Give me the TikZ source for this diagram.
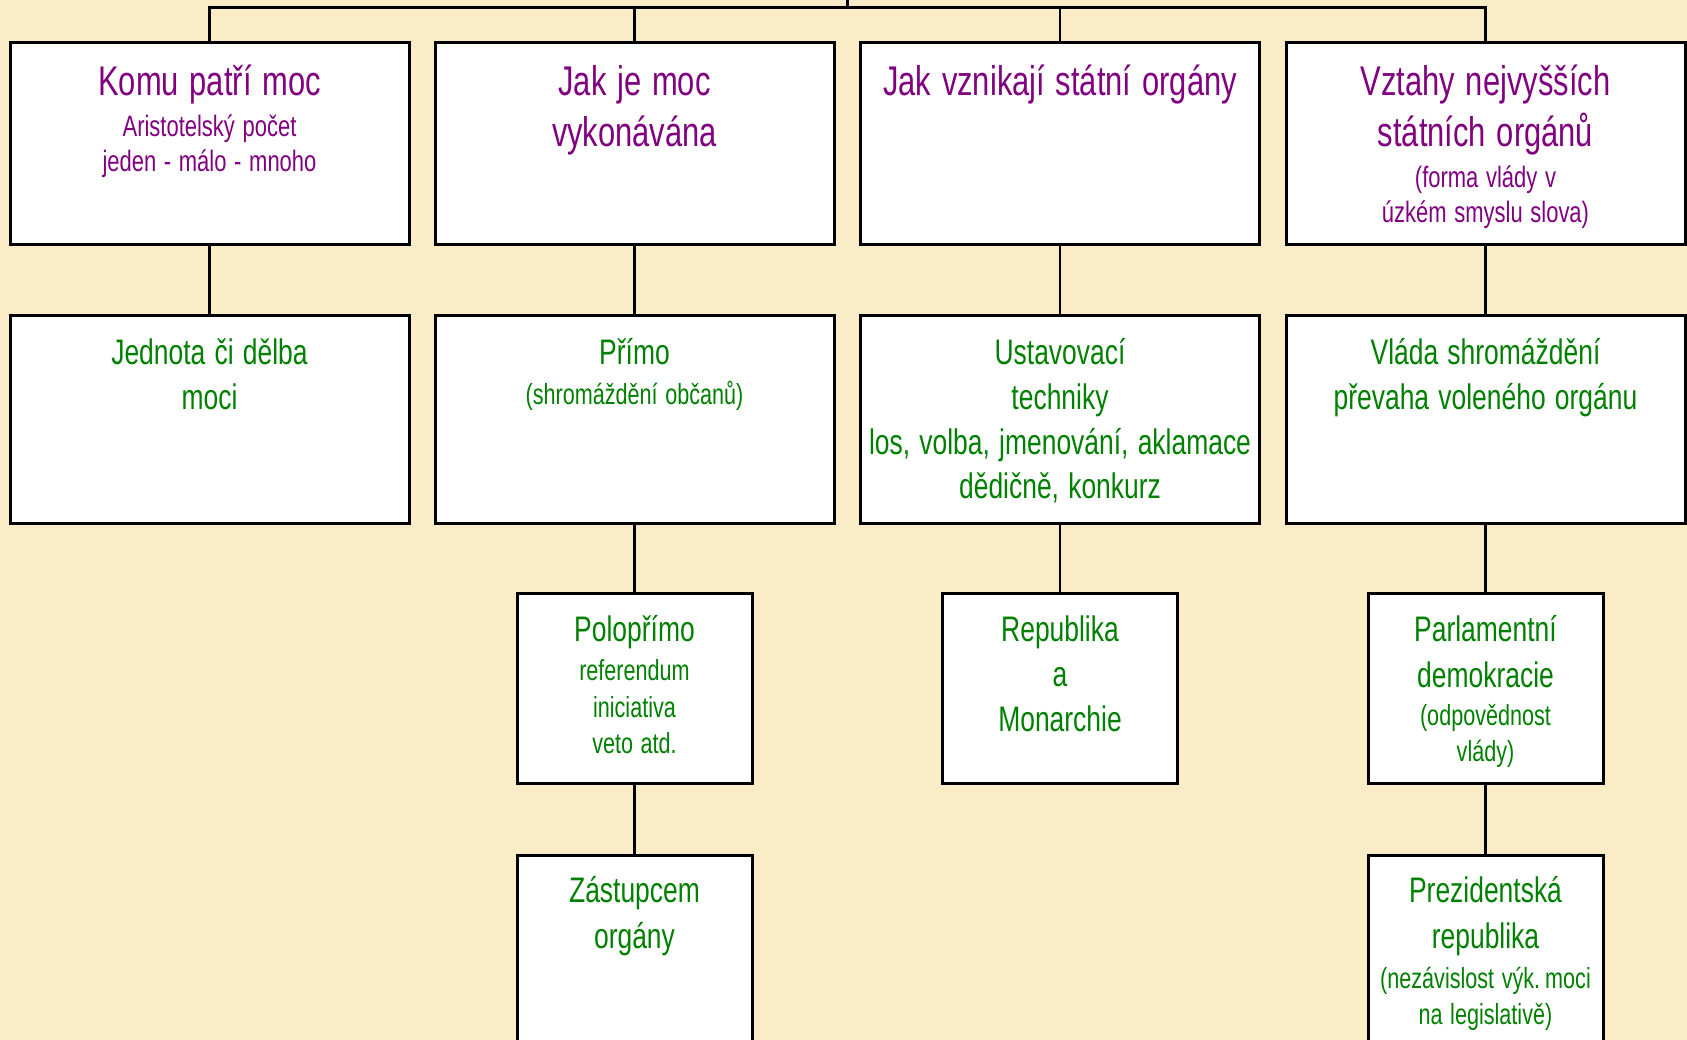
\documentclass[tikz,border=0pt]{standalone}
\usepackage{fontspec}
\setmainfont{Liberation Sans}[FakeStretch=0.745]
\usetikzlibrary{calc}
\definecolor{bg}{RGB}{251,236,200}
\definecolor{purp}{RGB}{128,0,128}
\definecolor{grn}{RGB}{0,128,0}
% one line: font size, distance of its baseline from the previous one, text
\newcommand\Ln[3]{{\fontsize{#1}{#2}\selectfont\spaceskip=0.26\dimexpr#1pt\relax#3\par}}
\newcommand\Fst{\rule{0pt}{40pt}}
\begin{document}
\begin{tikzpicture}[x=1pt,y=-1pt,
  box/.style={draw=black, line width=3pt, fill=white, inner sep=0pt},
  wide/.style={box, minimum width=399pt},
  narrow/.style={box, minimum width=235pt},
  conn/.style={draw=black, line width=2.6pt},
  txt/.style={anchor=north, align=center, inner sep=0pt,
    execute at begin node={\parindent=0pt\parskip=0pt\lineskiplimit=-1000pt}},
  ptxt/.style={txt, text=purp, text width=396pt},
  gtxt/.style={txt, text=grn, text width=396pt},
  gntxt/.style={txt, text=grn, text width=232pt}]
\useasboundingbox (0,0) rectangle (1687,1040);
\fill[bg] (0,0) rectangle (1687,1040);
\clip (0,0) rectangle (1687,1040);

% row 1
\node[wide, minimum height=202pt] (a1) at (209.5,144) {};
\node[wide, minimum height=202pt] (b1) at (634.5,144) {};
\node[wide, minimum height=202pt] (c1) at (1060,144) {};
\node[wide, minimum height=202pt] (d1) at (1485.5,144) {};
% row 2
\node[wide, minimum height=207pt] (a2) at (209.5,419.5) {};
\node[wide, minimum height=207pt] (b2) at (634.5,419.5) {};
\node[wide, minimum height=207pt] (c2) at (1060,419.5) {};
\node[wide, minimum height=207pt] (d2) at (1485.5,419.5) {};
% row 3
\node[narrow, minimum height=190pt] (b3) at (634.5,688) {};
\node[narrow, minimum height=190pt] (c3) at (1060,688) {};
\node[narrow, minimum height=190pt] (d3) at (1485.5,688) {};
% row 4
\node[narrow, minimum height=250pt] (b4) at (634.5,980) {};
\node[narrow, minimum height=250pt] (d4) at (1485.5,980) {};

% connectors
\coordinate (hub) at (847.5,7.5);
\coordinate (root) at (847.5,-10);
\draw[conn] (a1.north) |- (hub) -| (d1.north);
\draw[conn] (hub) -- (root);
\draw[conn] (b1.north) -- (b1.north |- hub);
\draw[conn] (c1.north) -- (c1.north |- hub);
\draw[conn] (a1.south) -- (a2.north);
\draw[conn] (b1.south) -- (b2.north);
\draw[conn] (c1.south) -- (c2.north);
\draw[conn] (d1.south) -- (d2.north);
\draw[conn] (b2.south) -- (b3.north);
\draw[conn] (c2.south) -- (c3.north);
\draw[conn] (d2.south) -- (d3.north);
\draw[conn] (b3.south) -- (b4.north);
\draw[conn] (d3.south) -- (d4.north);

% texts, row 1 (purple)
\node[ptxt] (a1t) at ($(a1.north)+(0,13.5)$) {%
  \Ln{41.5}{0}{\Fst Komu patří moc}%
  \Ln{29.5}{41}{Aristotelský počet}%
  \Ln{29.5}{35.5}{jeden - málo - mnoho}};
\node[ptxt] (b1t) at ($(b1.north)+(0,13.5)$) {%
  \Ln{41.5}{0}{\Fst Jak je moc}%
  \Ln{41.5}{51}{vykonávána}};
\node[ptxt] (c1t) at ($(c1.north)+(0,13.5)$) {%
  \Ln{41.5}{0}{\Fst Jak vznikají státní orgány}};
\node[ptxt] (d1t) at ($(d1.north)+(0,13.5)$) {%
  \Ln{41.5}{0}{\Fst Vztahy nejvyšších}%
  \Ln{41.5}{51}{státních orgánů}%
  \Ln{29.5}{41}{(forma vlády v}%
  \Ln{29.5}{35.5}{úzkém smyslu slova)}};

% row 2 (green)
\node[gtxt] (a2t) at ($(a2.north)+(0,10)$) {%
  \Ln{35.5}{0}{\Fst Jednota či dělba}%
  \Ln{35.5}{45}{moci}};
\node[gtxt] (b2t) at ($(b2.north)+(0,10)$) {%
  \Ln{35.5}{0}{\Fst Přímo}%
  \Ln{29}{39.5}{(shromáždění občanů)}};
\node[gtxt] (c2t) at ($(c2.north)+(0,10)$) {%
  \Ln{35.5}{0}{\Fst Ustavovací}%
  \Ln{35.5}{45}{techniky}%
  \Ln{35.5}{44.5}{los, volba, jmenování, aklamace}%
  \Ln{35.5}{44.5}{dědičně, konkurz}};
\node[gtxt] (d2t) at ($(d2.north)+(0,10)$) {%
  \Ln{35.5}{0}{\Fst Vláda shromáždění}%
  \Ln{35.5}{45}{převaha voleného orgánu}};

% row 3
\node[gntxt] (b3t) at ($(b3.north)+(0,10)$) {%
  \Ln{35.5}{0}{\Fst Polopřímo}%
  \Ln{29}{39}{referendum}%
  \Ln{29}{36.5}{iniciativa}%
  \Ln{29}{36.5}{veto atd.}};
\node[gntxt] (c3t) at ($(c3.north)+(0,10)$) {%
  \Ln{35.5}{0}{\Fst Republika}%
  \Ln{35.5}{45}{a}%
  \Ln{35.5}{44.5}{Monarchie}};
\node[gntxt] (d3t) at ($(d3.north)+(0,10)$) {%
  \Ln{35.5}{0}{\Fst Parlamentní}%
  \Ln{35.5}{45.5}{demokracie}%
  \Ln{29}{38.5}{(odpovědnost}%
  \Ln{29}{35.5}{vlády)}};

% row 4
\node[gntxt] (b4t) at ($(b4.north)+(0,9)$) {%
  \Ln{35.5}{0}{\Fst Zástupcem}%
  \Ln{35.5}{45.5}{orgány}};
\node[gntxt] (d4t) at ($(d4.north)+(0,9)$) {%
  \Ln{35.5}{0}{\Fst Prezidentská}%
  \Ln{35.5}{45.5}{republika}%
  \Ln{29}{40}{(nezávislost výk. moci}%
  \Ln{29}{36.5}{na legislativě)}};
\end{tikzpicture}
\end{document}
